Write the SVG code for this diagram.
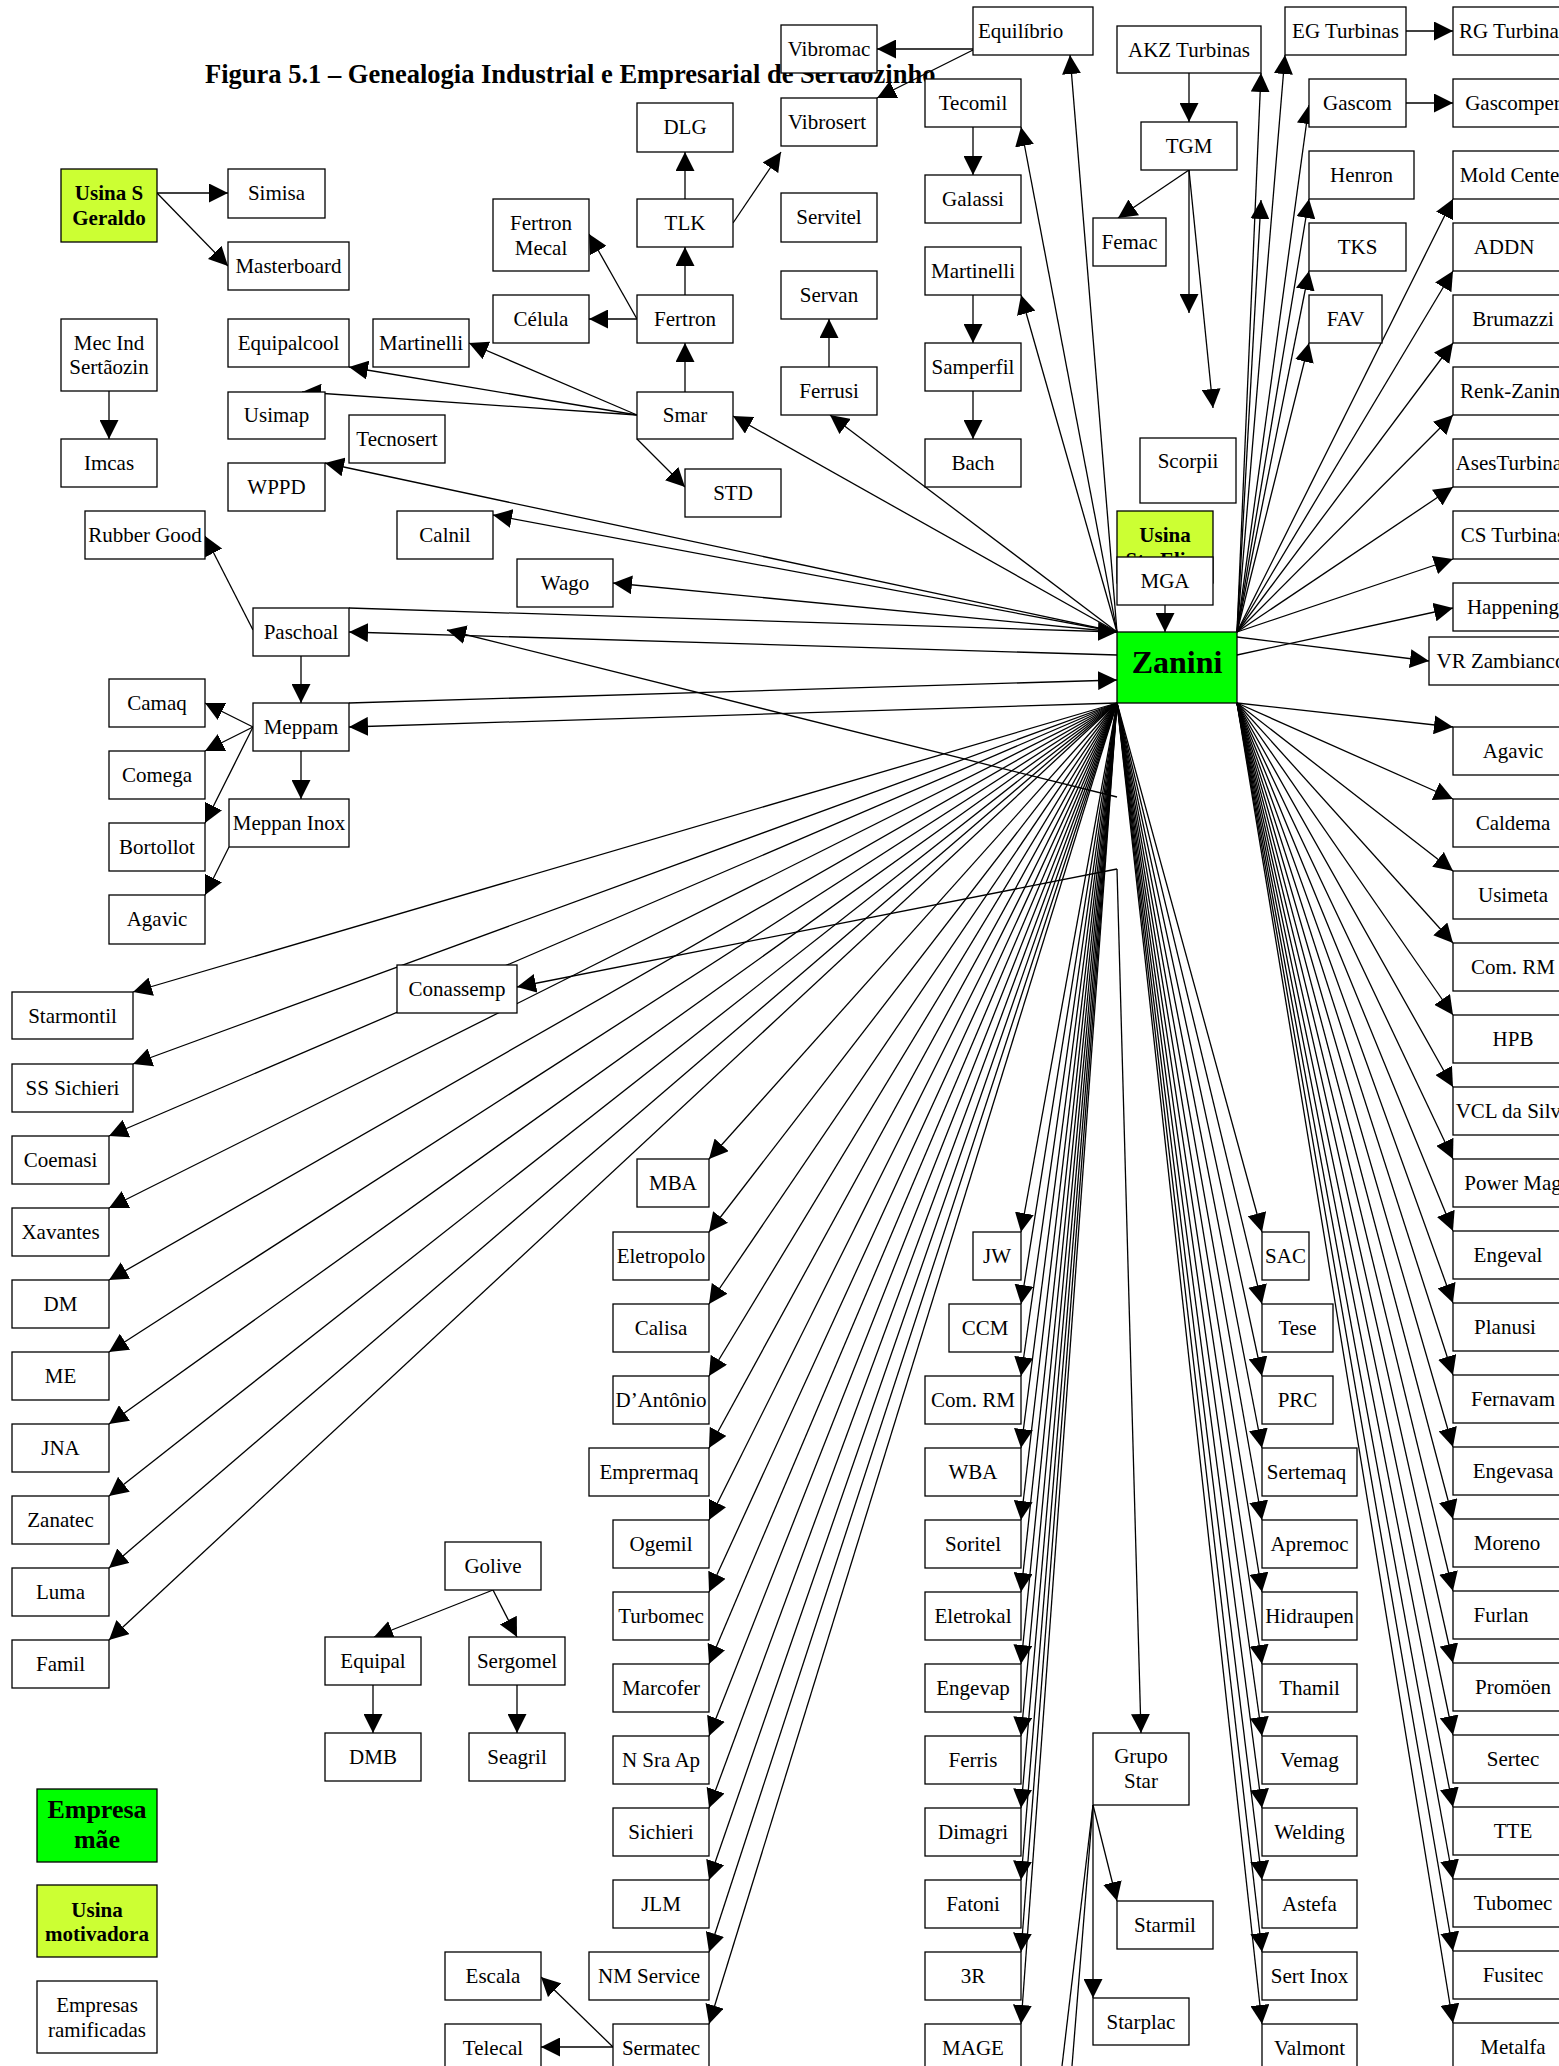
<svg xmlns="http://www.w3.org/2000/svg" width="1559" height="2066" viewBox="0 0 1559 2066">
<defs>
<marker id="ah" viewBox="0 0 19 19" refX="19" refY="9.5" markerWidth="19" markerHeight="19" markerUnits="userSpaceOnUse" orient="auto"><path d="M0,0 L19,9.5 L0,19 z" fill="#000"/></marker>
<style>
text{font-family:"Liberation Serif","Times New Roman",serif;font-size:21px;text-anchor:middle;fill:#000}
.n rect{fill:#fff;stroke:#000;stroke-width:1.3}
.n.g rect{fill:#00ff00}
.n.y rect{fill:#ccff33}
.b{font-weight:bold}
.c line,.c path{stroke:#000;stroke-width:1.3;fill:none}
.c .a{marker-end:url(#ah)}
.title{font-weight:bold;font-size:26.5px;text-anchor:start}
</style>
</defs>
<rect width="1559" height="2066" fill="#fff"/>
<text class="title" x="205" y="83">Figura 5.1 – Genealogia Industrial e Empresarial de Sertãozinho</text>

<g id="connectors" class="c">
<line class="a" x1="157" y1="193" x2="228" y2="193"/>
<line class="a" x1="157" y1="193" x2="228" y2="266"/>
<line class="a" x1="109" y1="391" x2="109" y2="439"/>
<line class="a" x1="637" y1="415" x2="469" y2="343"/>
<line class="a" x1="637" y1="415" x2="349" y2="367"/>
<line class="a" x1="637" y1="415" x2="302" y2="392"/>
<line class="a" x1="637" y1="439" x2="685" y2="487"/>
<line class="a" x1="685" y1="392" x2="685" y2="343"/>
<line class="a" x1="685" y1="295" x2="685" y2="247"/>
<line class="a" x1="685" y1="199" x2="685" y2="152"/>
<line class="a" x1="733" y1="223" x2="781" y2="152"/>
<line class="a" x1="637" y1="319" x2="589" y2="319"/>
<line class="a" x1="637" y1="319" x2="589" y2="234"/>
<line class="a" x1="829" y1="367" x2="829" y2="319"/>
<line class="a" x1="973" y1="127" x2="973" y2="175"/>
<line class="a" x1="973" y1="295" x2="973" y2="343"/>
<line class="a" x1="973" y1="391" x2="973" y2="439"/>
<line class="a" x1="973" y1="49" x2="877" y2="49"/>
<line class="a" x1="973" y1="50" x2="877" y2="98"/>
<line class="a" x1="1189" y1="73" x2="1189" y2="122"/>
<line class="a" x1="1189" y1="170" x2="1118" y2="218"/>
<line class="a" x1="1189" y1="170" x2="1189" y2="313"/>
<line class="a" x1="1189" y1="170" x2="1213" y2="408"/>
<line class="a" x1="1406" y1="31" x2="1453" y2="31"/>
<line class="a" x1="1406" y1="103" x2="1453" y2="103"/>
<line class="a" x1="1117" y1="632" x2="733" y2="416"/>
<line class="a" x1="1117" y1="632" x2="830" y2="415"/>
<line class="a" x1="1117" y1="632" x2="1021" y2="127"/>
<line class="a" x1="1117" y1="632" x2="1021" y2="295"/>
<line class="a" x1="1117" y1="632" x2="1070" y2="55"/>
<line class="a" x1="1117" y1="632" x2="325" y2="463"/>
<line class="a" x1="1117" y1="632" x2="493" y2="515"/>
<line class="a" x1="1117" y1="632" x2="613" y2="583"/>
<line class="a" x1="349" y1="608" x2="1117" y2="632"/>
<line class="a" x1="1117" y1="655" x2="349" y2="632"/>
<line class="a" x1="349" y1="703" x2="1117" y2="680"/>
<line class="a" x1="1117" y1="703" x2="349" y2="727"/>
<line class="a" x1="1117" y1="797" x2="447" y2="630"/>
<line class="a" x1="253" y1="630" x2="205" y2="536"/>
<line class="a" x1="301" y1="656" x2="301" y2="703"/>
<line class="a" x1="253" y1="727" x2="205" y2="703"/>
<line class="a" x1="253" y1="727" x2="205" y2="751"/>
<line class="a" x1="253" y1="727" x2="205" y2="823"/>
<line class="a" x1="301" y1="751" x2="301" y2="799"/>
<line class="a" x1="229" y1="847" x2="205" y2="895"/>
<line class="a" x1="1117" y1="869" x2="517" y2="987"/>
<line class="a" x1="1117" y1="869" x2="1141" y2="1733"/>
<line class="a" x1="1165" y1="605" x2="1165" y2="632"/>
<line class="a" x1="1237" y1="632" x2="1261" y2="73"/>
<line class="a" x1="1237" y1="632" x2="1261" y2="200"/>
<line class="a" x1="1237" y1="632" x2="1285" y2="55"/>
<line class="a" x1="1237" y1="632" x2="1309" y2="105"/>
<line class="a" x1="1237" y1="632" x2="1309" y2="199"/>
<line class="a" x1="1237" y1="632" x2="1309" y2="271"/>
<line class="a" x1="1237" y1="632" x2="1309" y2="343"/>
<line class="a" x1="1237" y1="632" x2="1453" y2="199"/>
<line class="a" x1="1237" y1="632" x2="1453" y2="271"/>
<line class="a" x1="1237" y1="632" x2="1453" y2="343"/>
<line class="a" x1="1237" y1="632" x2="1453" y2="415"/>
<line class="a" x1="1237" y1="632" x2="1453" y2="487"/>
<line class="a" x1="1237" y1="632" x2="1453" y2="559"/>
<line class="a" x1="1237" y1="655" x2="1453" y2="608"/>
<line class="a" x1="1237" y1="637" x2="1429" y2="661"/>
<line class="a" x1="1237" y1="703" x2="1453" y2="727"/>
<line class="a" x1="1237" y1="703" x2="1453" y2="799"/>
<line class="a" x1="1237" y1="703" x2="1453" y2="871"/>
<line class="a" x1="1237" y1="703" x2="1453" y2="943"/>
<line class="a" x1="1237" y1="703" x2="1453" y2="1015"/>
<line class="a" x1="1237" y1="703" x2="1453" y2="1087"/>
<line class="a" x1="1237" y1="703" x2="1453" y2="1159"/>
<line class="a" x1="1237" y1="703" x2="1453" y2="1231"/>
<line class="a" x1="1237" y1="703" x2="1453" y2="1303"/>
<line class="a" x1="1237" y1="703" x2="1453" y2="1375"/>
<line class="a" x1="1237" y1="703" x2="1453" y2="1447"/>
<line class="a" x1="1237" y1="703" x2="1453" y2="1519"/>
<line class="a" x1="1237" y1="703" x2="1453" y2="1591"/>
<line class="a" x1="1237" y1="703" x2="1453" y2="1663"/>
<line class="a" x1="1237" y1="703" x2="1453" y2="1735"/>
<line class="a" x1="1237" y1="703" x2="1453" y2="1807"/>
<line class="a" x1="1237" y1="703" x2="1453" y2="1879"/>
<line class="a" x1="1237" y1="703" x2="1453" y2="1951"/>
<line class="a" x1="1237" y1="703" x2="1453" y2="2023"/>
<line class="a" x1="1117" y1="703" x2="1262" y2="1232"/>
<line class="a" x1="1117" y1="703" x2="1262" y2="1304"/>
<line class="a" x1="1117" y1="703" x2="1262" y2="1376"/>
<line class="a" x1="1117" y1="703" x2="1262" y2="1448"/>
<line class="a" x1="1117" y1="703" x2="1262" y2="1520"/>
<line class="a" x1="1117" y1="703" x2="1262" y2="1592"/>
<line class="a" x1="1117" y1="703" x2="1262" y2="1664"/>
<line class="a" x1="1117" y1="703" x2="1262" y2="1736"/>
<line class="a" x1="1117" y1="703" x2="1262" y2="1808"/>
<line class="a" x1="1117" y1="703" x2="1262" y2="1880"/>
<line class="a" x1="1117" y1="703" x2="1262" y2="1952"/>
<line class="a" x1="1117" y1="703" x2="1262" y2="2024"/>
<line class="a" x1="1117" y1="703" x2="1021" y2="1232"/>
<line class="a" x1="1117" y1="703" x2="1021" y2="1304"/>
<line class="a" x1="1117" y1="703" x2="1021" y2="1376"/>
<line class="a" x1="1117" y1="703" x2="1021" y2="1448"/>
<line class="a" x1="1117" y1="703" x2="1021" y2="1520"/>
<line class="a" x1="1117" y1="703" x2="1021" y2="1592"/>
<line class="a" x1="1117" y1="703" x2="1021" y2="1664"/>
<line class="a" x1="1117" y1="703" x2="1021" y2="1736"/>
<line class="a" x1="1117" y1="703" x2="1021" y2="1808"/>
<line class="a" x1="1117" y1="703" x2="1021" y2="1880"/>
<line class="a" x1="1117" y1="703" x2="1021" y2="1952"/>
<line class="a" x1="1117" y1="703" x2="1021" y2="2024"/>
<line class="a" x1="1117" y1="703" x2="709" y2="1159"/>
<line class="a" x1="1117" y1="703" x2="709" y2="1232"/>
<line class="a" x1="1117" y1="703" x2="709" y2="1304"/>
<line class="a" x1="1117" y1="703" x2="709" y2="1376"/>
<line class="a" x1="1117" y1="703" x2="709" y2="1448"/>
<line class="a" x1="1117" y1="703" x2="709" y2="1520"/>
<line class="a" x1="1117" y1="703" x2="709" y2="1592"/>
<line class="a" x1="1117" y1="703" x2="709" y2="1664"/>
<line class="a" x1="1117" y1="703" x2="709" y2="1736"/>
<line class="a" x1="1117" y1="703" x2="709" y2="1808"/>
<line class="a" x1="1117" y1="703" x2="709" y2="1880"/>
<line class="a" x1="1117" y1="703" x2="709" y2="1952"/>
<line class="a" x1="1117" y1="703" x2="709" y2="2024"/>
<line class="a" x1="1117" y1="703" x2="133" y2="992"/>
<line class="a" x1="1117" y1="703" x2="133" y2="1064"/>
<line class="a" x1="1117" y1="703" x2="109" y2="1136"/>
<line class="a" x1="1117" y1="703" x2="109" y2="1208"/>
<line class="a" x1="1117" y1="703" x2="109" y2="1280"/>
<line class="a" x1="1117" y1="703" x2="109" y2="1352"/>
<line class="a" x1="1117" y1="703" x2="109" y2="1424"/>
<line class="a" x1="1117" y1="703" x2="109" y2="1496"/>
<line class="a" x1="1117" y1="703" x2="109" y2="1568"/>
<line class="a" x1="1117" y1="703" x2="109" y2="1640"/>
<line class="a" x1="493" y1="1590" x2="374" y2="1637"/>
<line class="a" x1="493" y1="1590" x2="517" y2="1637"/>
<line class="a" x1="373" y1="1685" x2="373" y2="1733"/>
<line class="a" x1="517" y1="1685" x2="517" y2="1733"/>
<line class="a" x1="613" y1="2047" x2="541" y2="1977"/>
<line class="a" x1="613" y1="2047" x2="541" y2="2047"/>
<line class="a" x1="1093" y1="1805" x2="1117" y2="1901"/>
<line class="a" x1="1093" y1="1805" x2="1093" y2="1998"/>
<line x1="1093" y1="1805" x2="1062" y2="2066"/>
<line x1="1093" y1="1805" x2="1072" y2="2066"/>
</g>

<g id="n-usinasg" class="n y"><rect x="61" y="169" width="96" height="73"/><text class="b" x="109" y="200">Usina S</text><text class="b" x="109" y="225">Geraldo</text></g>
<g id="n-simisa" class="n"><rect x="228" y="169" width="97" height="49"/><text x="276.5" y="200">Simisa</text></g>
<g id="n-masterboard" class="n"><rect x="228" y="242" width="121" height="48"/><text x="288.5" y="273">Masterboard</text></g>
<g id="n-mecind" class="n"><rect x="61" y="319" width="96" height="72"/><text x="109" y="350">Mec Ind</text><text x="109" y="374">Sertãozin</text></g>
<g id="n-imcas" class="n"><rect x="61" y="439" width="96" height="48"/><text x="109" y="470">Imcas</text></g>
<g id="n-equipalcool" class="n"><rect x="228" y="319" width="121" height="48"/><text x="288.5" y="350">Equipalcool</text></g>
<g id="n-martinelli1" class="n"><rect x="373" y="319" width="96" height="48"/><text x="421" y="350">Martinelli</text></g>
<g id="n-usimap" class="n"><rect x="228" y="392" width="97" height="47"/><text x="276.5" y="422">Usimap</text></g>
<g id="n-tecnosert" class="n"><rect x="349" y="415" width="96" height="48"/><text x="397" y="446">Tecnosert</text></g>
<g id="n-wppd" class="n"><rect x="228" y="463" width="97" height="48"/><text x="276.5" y="494">WPPD</text></g>
<g id="n-rubbergood" class="n"><rect x="85" y="511" width="120" height="48"/><text x="145" y="542">Rubber Good</text></g>
<g id="n-calnil" class="n"><rect x="397" y="511" width="96" height="48"/><text x="445" y="542">Calnil</text></g>
<g id="n-wago" class="n"><rect x="517" y="559" width="96" height="48"/><text x="565" y="590">Wago</text></g>
<g id="n-paschoal" class="n"><rect x="253" y="608" width="96" height="48"/><text x="301" y="639">Paschoal</text></g>
<g id="n-camaq" class="n"><rect x="109" y="679" width="96" height="48"/><text x="157" y="710">Camaq</text></g>
<g id="n-meppam" class="n"><rect x="253" y="703" width="96" height="48"/><text x="301" y="734">Meppam</text></g>
<g id="n-comega" class="n"><rect x="109" y="751" width="96" height="48"/><text x="157" y="782">Comega</text></g>
<g id="n-meppaninox" class="n"><rect x="229" y="799" width="120" height="48"/><text x="289" y="830">Meppan Inox</text></g>
<g id="n-bortollot" class="n"><rect x="109" y="823" width="96" height="48"/><text x="157" y="854">Bortollot</text></g>
<g id="n-agavic1" class="n"><rect x="109" y="895" width="96" height="49"/><text x="157" y="926">Agavic</text></g>
<g id="n-conassemp" class="n"><rect x="397" y="965" width="120" height="48"/><text x="457" y="996">Conassemp</text></g>
<g id="n-starmontil" class="n"><rect x="12" y="992" width="121" height="47"/><text x="72.5" y="1023">Starmontil</text></g>
<g id="n-sssichieri" class="n"><rect x="12" y="1064" width="121" height="48"/><text x="72.5" y="1095">SS Sichieri</text></g>
<g id="n-coemasi" class="n"><rect x="12" y="1136" width="97" height="48"/><text x="60.5" y="1167">Coemasi</text></g>
<g id="n-xavantes" class="n"><rect x="12" y="1208" width="97" height="48"/><text x="60.5" y="1239">Xavantes</text></g>
<g id="n-dm" class="n"><rect x="12" y="1280" width="97" height="48"/><text x="60.5" y="1311">DM</text></g>
<g id="n-me" class="n"><rect x="12" y="1352" width="97" height="48"/><text x="60.5" y="1383">ME</text></g>
<g id="n-jna" class="n"><rect x="12" y="1424" width="97" height="48"/><text x="60.5" y="1455">JNA</text></g>
<g id="n-zanatec" class="n"><rect x="12" y="1496" width="97" height="48"/><text x="60.5" y="1527">Zanatec</text></g>
<g id="n-luma" class="n"><rect x="12" y="1568" width="97" height="48"/><text x="60.5" y="1599">Luma</text></g>
<g id="n-famil" class="n"><rect x="12" y="1640" width="97" height="48"/><text x="60.5" y="1671">Famil</text></g>

<g id="n-fertronmecal" class="n"><rect x="493" y="199" width="96" height="72"/><text x="541" y="230">Fertron</text><text x="541" y="255">Mecal</text></g>
<g id="n-celula" class="n"><rect x="493" y="295" width="96" height="48"/><text x="541" y="326">Célula</text></g>
<g id="n-dlg" class="n"><rect x="637" y="103" width="96" height="49"/><text x="685" y="134">DLG</text></g>
<g id="n-tlk" class="n"><rect x="637" y="199" width="96" height="48"/><text x="685" y="230">TLK</text></g>
<g id="n-fertron" class="n"><rect x="637" y="295" width="96" height="48"/><text x="685" y="326">Fertron</text></g>
<g id="n-smar" class="n"><rect x="637" y="392" width="96" height="47"/><text x="685" y="422">Smar</text></g>
<g id="n-std" class="n"><rect x="685" y="469" width="96" height="48"/><text x="733" y="500">STD</text></g>
<g id="n-vibromac" class="n"><rect x="781" y="25" width="96" height="48"/><text x="829" y="56">Vibromac</text></g>
<g id="n-vibrosert" class="n"><rect x="781" y="98" width="96" height="48"/><text x="827" y="129">Vibrosert</text></g>
<g id="n-servitel" class="n"><rect x="781" y="193" width="96" height="49"/><text x="829" y="224">Servitel</text></g>
<g id="n-servan" class="n"><rect x="781" y="271" width="96" height="48"/><text x="829" y="302">Servan</text></g>
<g id="n-ferrusi" class="n"><rect x="781" y="367" width="96" height="48"/><text x="829" y="398">Ferrusi</text></g>
<g id="n-equilibrio" class="n"><rect x="973" y="7" width="120" height="48"/><text x="978" y="38" style="text-anchor:start">Equilíbrio</text></g>
<g id="n-tecomil" class="n"><rect x="925" y="79" width="96" height="48"/><text x="973" y="110">Tecomil</text></g>
<g id="n-galassi" class="n"><rect x="925" y="175" width="96" height="48"/><text x="973" y="206">Galassi</text></g>
<g id="n-martinelli2" class="n"><rect x="925" y="247" width="96" height="48"/><text x="973" y="278">Martinelli</text></g>
<g id="n-samperfil" class="n"><rect x="925" y="343" width="96" height="48"/><text x="973" y="374">Samperfil</text></g>
<g id="n-bach" class="n"><rect x="925" y="439" width="96" height="48"/><text x="973" y="470">Bach</text></g>
<g id="n-akz" class="n"><rect x="1117" y="26" width="144" height="47"/><text x="1189" y="57">AKZ Turbinas</text></g>
<g id="n-tgm" class="n"><rect x="1141" y="122" width="96" height="48"/><text x="1189" y="153">TGM</text></g>
<g id="n-femac" class="n"><rect x="1093" y="218" width="73" height="48"/><text x="1129.5" y="249">Femac</text></g>
<g id="n-scorpii" class="n"><rect x="1140" y="438" width="96" height="65"/><text x="1188" y="468">Scorpii</text></g>
<g id="n-egturbinas" class="n"><rect x="1285" y="7" width="121" height="48"/><text x="1345.5" y="38">EG Turbinas</text></g>
<g id="n-gascom" class="n"><rect x="1309" y="79" width="97" height="48"/><text x="1357.5" y="110">Gascom</text></g>
<g id="n-henron" class="n"><rect x="1309" y="151" width="105" height="48"/><text x="1361.5" y="182">Henron</text></g>
<g id="n-tks" class="n"><rect x="1309" y="223" width="97" height="48"/><text x="1357.5" y="254">TKS</text></g>
<g id="n-fav" class="n"><rect x="1309" y="295" width="73" height="48"/><text x="1345.5" y="326">FAV</text></g>

<g id="n-rgturbinas" class="n"><rect x="1453" y="7" width="120" height="48"/><text x="1513" y="38">RG Turbinas</text></g>
<g id="n-gascomper" class="n"><rect x="1453" y="79" width="120" height="48"/><text x="1513" y="110">Gascomper</text></g>
<g id="n-moldcenter" class="n"><rect x="1453" y="151" width="120" height="48"/><text x="1513" y="182">Mold Center</text></g>
<g id="n-addn" class="n"><rect x="1453" y="223" width="120" height="48"/><text x="1504" y="254">ADDN</text></g>
<g id="n-brumazzi" class="n"><rect x="1453" y="295" width="120" height="48"/><text x="1513" y="326">Brumazzi</text></g>
<g id="n-renkzanini" class="n"><rect x="1453" y="367" width="120" height="48"/><text x="1513" y="398">Renk-Zanini</text></g>
<g id="n-asesturbinas" class="n"><rect x="1453" y="439" width="120" height="48"/><text x="1513" y="470">AsesTurbinas</text></g>
<g id="n-csturbinas" class="n"><rect x="1453" y="511" width="120" height="48"/><text x="1513" y="542">CS Turbinas</text></g>
<g id="n-happening" class="n"><rect x="1453" y="583" width="120" height="48"/><text x="1513" y="614">Happening</text></g>
<g id="n-vrzambianco" class="n"><rect x="1429" y="637" width="144" height="48"/><text x="1501" y="668">VR Zambianco</text></g>
<g id="n-agavic2" class="n"><rect x="1453" y="727" width="120" height="48"/><text x="1513" y="758">Agavic</text></g>
<g id="n-caldema" class="n"><rect x="1453" y="799" width="120" height="48"/><text x="1513" y="830">Caldema</text></g>
<g id="n-usimeta" class="n"><rect x="1453" y="871" width="120" height="48"/><text x="1513" y="902">Usimeta</text></g>
<g id="n-comrm2" class="n"><rect x="1453" y="943" width="120" height="48"/><text x="1513" y="974">Com. RM</text></g>
<g id="n-hpb" class="n"><rect x="1453" y="1015" width="120" height="48"/><text x="1513" y="1046">HPB</text></g>
<g id="n-vcl" class="n"><rect x="1453" y="1087" width="120" height="48"/><text x="1513" y="1118">VCL da Silva</text></g>
<g id="n-powermag" class="n"><rect x="1453" y="1159" width="120" height="48"/><text x="1513" y="1190">Power Mag</text></g>
<g id="n-engeval" class="n"><rect x="1453" y="1231" width="120" height="48"/><text x="1508" y="1262">Engeval</text></g>
<g id="n-planusi" class="n"><rect x="1453" y="1303" width="120" height="48"/><text x="1505" y="1334">Planusi</text></g>
<g id="n-fernavam" class="n"><rect x="1453" y="1375" width="120" height="48"/><text x="1513" y="1406">Fernavam</text></g>
<g id="n-engevasa" class="n"><rect x="1453" y="1447" width="120" height="48"/><text x="1513" y="1478">Engevasa</text></g>
<g id="n-moreno" class="n"><rect x="1453" y="1519" width="120" height="48"/><text x="1507" y="1550">Moreno</text></g>
<g id="n-furlan" class="n"><rect x="1453" y="1591" width="120" height="48"/><text x="1501" y="1622">Furlan</text></g>
<g id="n-promoen" class="n"><rect x="1453" y="1663" width="120" height="48"/><text x="1513" y="1694">Promöen</text></g>
<g id="n-sertec" class="n"><rect x="1453" y="1735" width="120" height="48"/><text x="1513" y="1766">Sertec</text></g>
<g id="n-tte" class="n"><rect x="1453" y="1807" width="120" height="48"/><text x="1513" y="1838">TTE</text></g>
<g id="n-tubomec" class="n"><rect x="1453" y="1879" width="120" height="48"/><text x="1513" y="1910">Tubomec</text></g>
<g id="n-fusitec" class="n"><rect x="1453" y="1951" width="120" height="48"/><text x="1513" y="1982">Fusitec</text></g>
<g id="n-metalfa" class="n"><rect x="1453" y="2023" width="120" height="48"/><text x="1513" y="2054">Metalfa</text></g>

<g id="n-usinase" class="n y"><rect x="1117" y="511" width="96" height="72"/><text class="b" x="1165" y="542">Usina</text><text class="b" x="1165" y="567">Sta Elisa</text></g>
<g id="n-mga" class="n"><rect x="1117" y="557" width="96" height="48"/><text x="1165" y="588">MGA</text></g>
<g id="n-zanini" class="n g"><rect x="1117" y="632" width="120" height="71"/><text class="b" x="1177" y="673" style="font-size:32px">Zanini</text></g>

<g id="n-mba" class="n"><rect x="637" y="1159" width="72" height="48"/><text x="673" y="1190">MBA</text></g>
<g id="n-eletropolo" class="n"><rect x="613" y="1232" width="96" height="48"/><text x="661" y="1263">Eletropolo</text></g>
<g id="n-calisa" class="n"><rect x="613" y="1304" width="96" height="48"/><text x="661" y="1335">Calisa</text></g>
<g id="n-dantonio" class="n"><rect x="613" y="1376" width="96" height="48"/><text x="661" y="1407">D’Antônio</text></g>
<g id="n-emprermaq" class="n"><rect x="589" y="1448" width="120" height="48"/><text x="649" y="1479">Emprermaq</text></g>
<g id="n-ogemil" class="n"><rect x="613" y="1520" width="96" height="48"/><text x="661" y="1551">Ogemil</text></g>
<g id="n-turbomec" class="n"><rect x="613" y="1592" width="96" height="48"/><text x="661" y="1623">Turbomec</text></g>
<g id="n-marcofer" class="n"><rect x="613" y="1664" width="96" height="48"/><text x="661" y="1695">Marcofer</text></g>
<g id="n-nsraap" class="n"><rect x="613" y="1736" width="96" height="48"/><text x="661" y="1767">N Sra Ap</text></g>
<g id="n-sichieri" class="n"><rect x="613" y="1808" width="96" height="48"/><text x="661" y="1839">Sichieri</text></g>
<g id="n-jlm" class="n"><rect x="613" y="1880" width="96" height="48"/><text x="661" y="1911">JLM</text></g>
<g id="n-nmservice" class="n"><rect x="589" y="1952" width="120" height="48"/><text x="649" y="1983">NM Service</text></g>
<g id="n-sermatec" class="n"><rect x="613" y="2024" width="96" height="48"/><text x="661" y="2055">Sermatec</text></g>

<g id="n-jw" class="n"><rect x="973" y="1232" width="48" height="48"/><text x="997" y="1263">JW</text></g>
<g id="n-ccm" class="n"><rect x="949" y="1304" width="72" height="48"/><text x="985" y="1335">CCM</text></g>
<g id="n-comrm1" class="n"><rect x="925" y="1376" width="96" height="48"/><text x="973" y="1407">Com. RM</text></g>
<g id="n-wba" class="n"><rect x="925" y="1448" width="96" height="48"/><text x="973" y="1479">WBA</text></g>
<g id="n-soritel" class="n"><rect x="925" y="1520" width="96" height="48"/><text x="973" y="1551">Soritel</text></g>
<g id="n-eletrokal" class="n"><rect x="925" y="1592" width="96" height="48"/><text x="973" y="1623">Eletrokal</text></g>
<g id="n-engevap" class="n"><rect x="925" y="1664" width="96" height="48"/><text x="973" y="1695">Engevap</text></g>
<g id="n-ferris" class="n"><rect x="925" y="1736" width="96" height="48"/><text x="973" y="1767">Ferris</text></g>
<g id="n-dimagri" class="n"><rect x="925" y="1808" width="96" height="48"/><text x="973" y="1839">Dimagri</text></g>
<g id="n-fatoni" class="n"><rect x="925" y="1880" width="96" height="48"/><text x="973" y="1911">Fatoni</text></g>
<g id="n-3r" class="n"><rect x="925" y="1952" width="96" height="48"/><text x="973" y="1983">3R</text></g>
<g id="n-mage" class="n"><rect x="925" y="2024" width="96" height="48"/><text x="973" y="2055">MAGE</text></g>

<g id="n-sac" class="n"><rect x="1262" y="1232" width="47" height="48"/><text x="1285.5" y="1263">SAC</text></g>
<g id="n-tese" class="n"><rect x="1262" y="1304" width="71" height="48"/><text x="1297.5" y="1335">Tese</text></g>
<g id="n-prc" class="n"><rect x="1262" y="1376" width="71" height="48"/><text x="1297.5" y="1407">PRC</text></g>
<g id="n-sertemaq" class="n"><rect x="1262" y="1448" width="95" height="48"/><text x="1306.5" y="1479">Sertemaq</text></g>
<g id="n-apremoc" class="n"><rect x="1262" y="1520" width="95" height="48"/><text x="1309.5" y="1551">Apremoc</text></g>
<g id="n-hidraupen" class="n"><rect x="1262" y="1592" width="95" height="48"/><text x="1309.5" y="1623">Hidraupen</text></g>
<g id="n-thamil" class="n"><rect x="1262" y="1664" width="95" height="48"/><text x="1309.5" y="1695">Thamil</text></g>
<g id="n-vemag" class="n"><rect x="1262" y="1736" width="95" height="48"/><text x="1309.5" y="1767">Vemag</text></g>
<g id="n-welding" class="n"><rect x="1262" y="1808" width="95" height="48"/><text x="1309.5" y="1839">Welding</text></g>
<g id="n-astefa" class="n"><rect x="1262" y="1880" width="95" height="48"/><text x="1309.5" y="1911">Astefa</text></g>
<g id="n-sertinox" class="n"><rect x="1262" y="1952" width="95" height="48"/><text x="1309.5" y="1983">Sert Inox</text></g>
<g id="n-valmont" class="n"><rect x="1262" y="2024" width="95" height="48"/><text x="1309.5" y="2055">Valmont</text></g>

<g id="n-grupostar" class="n"><rect x="1093" y="1733" width="96" height="72"/><text x="1141" y="1763">Grupo</text><text x="1141" y="1788">Star</text></g>
<g id="n-starmil" class="n"><rect x="1117" y="1901" width="96" height="48"/><text x="1165" y="1932">Starmil</text></g>
<g id="n-starplac" class="n"><rect x="1093" y="1998" width="96" height="47"/><text x="1141" y="2029">Starplac</text></g>

<g id="n-golive" class="n"><rect x="445" y="1542" width="96" height="48"/><text x="493" y="1573">Golive</text></g>
<g id="n-equipal" class="n"><rect x="325" y="1637" width="96" height="48"/><text x="373" y="1668">Equipal</text></g>
<g id="n-sergomel" class="n"><rect x="469" y="1637" width="96" height="48"/><text x="517" y="1668">Sergomel</text></g>
<g id="n-dmb" class="n"><rect x="325" y="1733" width="96" height="48"/><text x="373" y="1764">DMB</text></g>
<g id="n-seagril" class="n"><rect x="469" y="1733" width="96" height="48"/><text x="517" y="1764">Seagril</text></g>
<g id="n-escala" class="n"><rect x="445" y="1952" width="96" height="48"/><text x="493" y="1983">Escala</text></g>
<g id="n-telecal" class="n"><rect x="445" y="2024" width="96" height="48"/><text x="493" y="2055">Telecal</text></g>

<g id="legend-mae" class="n g"><rect x="37" y="1789" width="120" height="73"/><text class="b" x="97" y="1818" style="font-size:26px">Empresa</text><text class="b" x="97" y="1848" style="font-size:26px">mãe</text></g>
<g id="legend-usina" class="n y"><rect x="37" y="1885" width="120" height="72"/><text class="b" x="97" y="1917">Usina</text><text class="b" x="97" y="1941">motivadora</text></g>
<g id="legend-ramificadas" class="n"><rect x="37" y="1981" width="120" height="72"/><text x="97" y="2012">Empresas</text><text x="97" y="2037">ramificadas</text></g>
</svg>
